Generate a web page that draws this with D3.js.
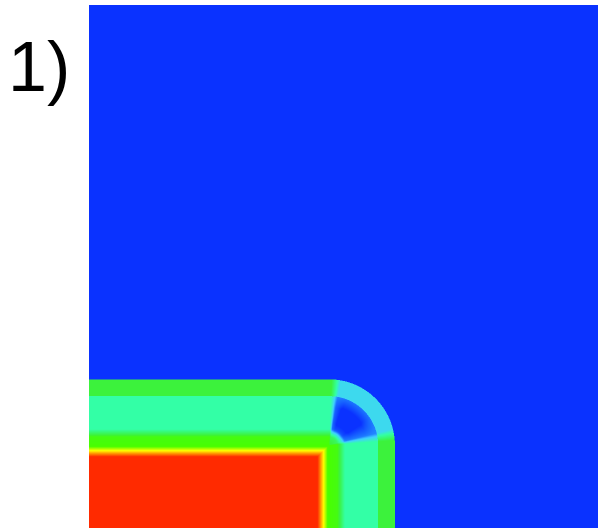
<!DOCTYPE html>
<html lang="en">
<head>
<meta charset="UTF-8">
<title>Field map 1)</title>
<style>
  body { margin: 0; padding: 0; background: #fff; overflow: hidden; }
  #chart { position: relative; width: 598px; height: 528px; }
  #chart canvas, #chart svg { position: absolute; left: 0; top: 0; }
  .panel-label { font-family: 'Liberation Sans', Arial, sans-serif; }
</style>
</head>
<body>
<div id="chart"></div>
<script src="https://d3js.org/d3.v7.min.js"></script>
<script>
  // panel label
  const panelLabel = '1)';

  // plotted window in data units
  const xDomain = [0, 100];
  const yDomain = [0, 102.75];

  // outline of the body: right edge, top edge and corner radius
  const bodyRight = 60.1;
  const bodyTop = 29.2;
  const cornerRadius = 12.9;

  // field level against depth below the outline
  const depthStops = [0, 3.3, 3.3, 9.8, 11.3, 13.2, 14.0, 14.6, 15.2];
  const levelStops = [0.55, 0.55, 0.40, 0.40, 0.60, 0.62, 0.72, 0.82, 0.90];
  const outsideLevel = 0.15;

  // drop of the level along the rounded corner, by depth and by angle
  const ringDepth = [0, 3.3, 3.3, 9.5, 12.9];
  const ringAmount = [0.23, 0.23, 0.16, 0.16, 0.05];
  const ringAngle = [0, 4, 14, 80, 88, 90];
  const ringWeight = [0, 0, 1, 1, 0, 0];

  // extra hollow inside the corner, by depth and by angle
  const holeDepth = [3.0, 5.5, 8.5, 11.5];
  const holeAmount = [0, 0.1, 0.1, 0];
  const holeAngle = [12, 35, 70, 86];
  const holeWeight = [0, 1, 1, 0];

  // colour map
  const colourLevels = [0.15, 0.22, 0.30, 0.40, 0.55, 0.62, 0.72, 0.82, 0.90];
  const colourValues = ['#0a32ff', '#1a70ff', '#40d0ff', '#33ffa6', '#3cf23c',
                        '#48ff00', '#ffff00', '#ff9000', '#ff2a00'];

  const width = 598, height = 528;
  const plot = { left: 89, top: 5, right: 598, bottom: 528 };

  const x = d3.scaleLinear().domain(xDomain).range([plot.left, plot.right]);
  const y = d3.scaleLinear().domain(yDomain).range([plot.bottom, plot.top]);

  const level = d3.scaleLinear().domain(depthStops).range(levelStops).clamp(true);
  const ringByDepth = d3.scaleLinear().domain(ringDepth).range(ringAmount).clamp(true);
  const ringByAngle = d3.scaleLinear().domain(ringAngle).range(ringWeight).clamp(true);
  const holeByDepth = d3.scaleLinear().domain(holeDepth).range(holeAmount).clamp(true);
  const holeByAngle = d3.scaleLinear().domain(holeAngle).range(holeWeight).clamp(true);
  const colour = d3.scaleLinear().domain(colourLevels).range(colourValues)
    .interpolate(d3.interpolateRgb).clamp(true);

  // lookup table so the pixel loop stays fast
  const lutSize = 1024;
  const lut = d3.range(lutSize).map(i => d3.rgb(colour(i / (lutSize - 1))));

  function fieldAt(px, py) {
    if (px > bodyRight || py > bodyTop) return outsideLevel;
    const cx = bodyRight - cornerRadius, cy = bodyTop - cornerRadius;
    if (px > cx && py > cy) {
      const rho = Math.hypot(px - cx, py - cy);
      if (rho > cornerRadius) return outsideLevel;
      const d = cornerRadius - rho;
      const ang = Math.atan2(py - cy, px - cx) * 180 / Math.PI;
      return level(d)
        - ringByDepth(d) * ringByAngle(ang)
        - holeByDepth(d) * holeByAngle(ang);
    }
    return level(Math.min(bodyRight - px, bodyTop - py));
  }

  const chart = d3.select('#chart');

  const canvas = chart.append('canvas')
    .attr('width', width)
    .attr('height', height)
    .node();
  const ctx = canvas.getContext('2d');
  ctx.fillStyle = '#fff';
  ctx.fillRect(0, 0, width, height);

  const pw = plot.right - plot.left, ph = plot.bottom - plot.top;
  const img = ctx.createImageData(pw, ph);
  const sub = [0.25, 0.75];
  for (let j = 0; j < ph; j++) {
    for (let i = 0; i < pw; i++) {
      let r = 0, g = 0, b = 0;
      for (const sy of sub) {
        for (const sx of sub) {
          const v = fieldAt(x.invert(plot.left + i + sx), y.invert(plot.top + j + sy));
          const c = lut[Math.max(0, Math.min(lutSize - 1, Math.round(v * (lutSize - 1))))];
          r += c.r; g += c.g; b += c.b;
        }
      }
      const k = (j * pw + i) * 4;
      img.data[k] = r / 4;
      img.data[k + 1] = g / 4;
      img.data[k + 2] = b / 4;
      img.data[k + 3] = 255;
    }
  }
  ctx.putImageData(img, plot.left, plot.top);

  const svg = chart.append('svg')
    .attr('width', width)
    .attr('height', height);

  svg.append('text')
    .attr('class', 'panel-label')
    .attr('x', 8)
    .attr('y', 91)
    .attr('font-size', 70)
    .attr('fill', '#000')
    .text(panelLabel);
</script>
</body>
</html>
